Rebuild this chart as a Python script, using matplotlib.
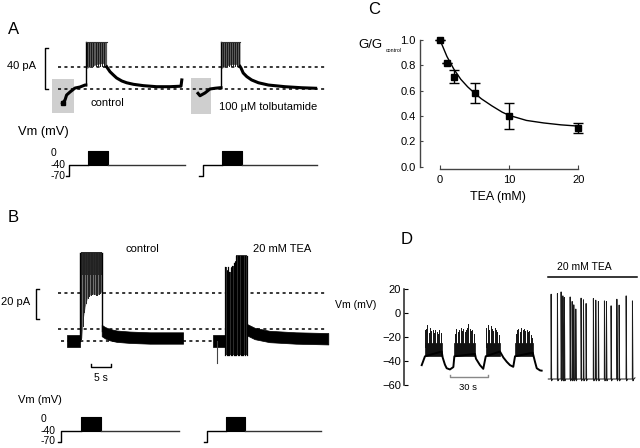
import matplotlib
matplotlib.use('Agg')
import matplotlib.pyplot as plt
import numpy as np
from matplotlib.patches import Rectangle

plt.rcParams['font.family'] = ['Liberation Sans', 'DejaVu Sans']

# ------------------------------------------------------------------ data
# Panel A: whole-cell current (time s from trace start, current pA above baseline)
A_ctrl_pre_t = [0.4, 1.0, 1.4, 2.25, 3.5, 4.75, 6.0, 6.2]
A_ctrl_pre_i = [-13.2, -10.3, -5.5, -2.6, 1.2, 2.2, 4.1, 4.1]
A_ctrl_burst = [6.2, 11.4]
A_ctrl_inner_t = [6.25, 7.5, 9.0, 10.5, 11.4]
A_ctrl_inner_i = [20.0, 22.0, 24.0, 25.0, 22.0]
A_ctrl_decay_t = [11.4, 12.25, 13.1, 13.9, 15.2, 16.4, 18.1, 20.6, 23.9, 27.25, 30.0, 30.2]
A_ctrl_decay_i = [21.7, 16.9, 13.75, 10.9, 8.0, 6.3, 4.8, 3.5, 2.5, 2.5, 3.0, 9.0]
A_ctrl_box = [-2.25, 3.25, -22.8, 9.9]          # t0, t1, i0, i1 (shaded region)

A_tolb_pre_t = [0.0, 0.5, 1.75, 3.0, 4.25, 5.5, 5.75]
A_tolb_pre_i = [-3.9, -6.2, -3.5, 0.3, 1.0, 1.5, 1.5]
A_tolb_burst = [5.75, 10.5]
A_tolb_inner_t = [5.8, 7.0, 8.5, 9.7, 10.5]
A_tolb_inner_i = [20.0, 22.6, 24.0, 24.0, 22.0]
A_tolb_decay_t = [10.5, 10.75, 11.3, 12.2, 13.4, 15.1, 17.6, 21.75, 25.9, 29.4]
A_tolb_decay_i = [22.0, 20.5, 15.7, 12.2, 9.0, 6.3, 4.1, 2.5, 1.5, 1.0]
A_tolb_box = [-1.75, 3.25, -23.75, 10.9]

A_burst_top = 45.8
A_dash_levels = [0.0, 21.7]
A_spike_rel = [0.4, 0.9, 1.4, 1.9, 2.5, 3.0, 3.6, 4.1, 4.6]

# Panel B
B_ctrl_pre_t = [0.0, 3.3]
B_ctrl_pre_i = [0.0, 0.0]
B_ctrl_burst = [3.3, 8.75]
B_ctrl_inner_t = [3.4, 3.75, 4.15, 4.6, 5.15, 5.8, 6.65, 7.5, 8.3, 8.75]
B_ctrl_inner_i = [0.0, 2.0, 15.3, 22.9, 28.7, 30.7, 31.3, 30.7, 31.8, 33.0]
B_ctrl_decay_t = [8.75, 9.6, 10.8, 12.5, 15.8, 20.8, 29.1]
B_ctrl_decay_i = [7.0, 5.5, 4.2, 3.2, 2.5, 2.0, 2.0]
B_ctrl_top = 59.0
B_ctrl_spk_rel = [0.3, 0.7, 1.1, 1.5, 1.9, 2.3, 2.7, 3.1, 3.5, 3.9, 4.3, 4.7, 5.1]

B_tea_pre_t = [0.0, 3.1]
B_tea_pre_i = [0.0, 0.0]
B_tea_notch = [1.0, -14.9]
B_tea_bottom = -9.3
B_tea_spk_t = [3.1, 3.45, 3.8, 4.15, 4.5, 4.85, 5.2, 5.55, 5.9, 6.25, 6.6, 6.95, 7.3, 7.65, 8.0, 8.5]
B_tea_spk_top = [49.5, 47.0, 49.5, 46.0, 49.0, 50.0, 52.0, 53.0, 57.0, 57.0, 57.0, 57.0, 57.0, 57.0, 57.0, 57.0]
B_tea_decay_t = [8.5, 8.6, 10.5, 14.2, 20.8, 28.9]
B_tea_decay_i = [8.0, 7.5, 5.0, 3.0, 2.0, 1.5]
B_noise_half = 3.8
B_dash_levels = [0.0, 7.8, 31.8]

# Voltage protocols: start, step to -40, test on, test off, end (s from trace start)
PROT_LEVELS = [-70, -40, 0]
A_ctrl_prot = [1.25, 2.0, 6.8, 11.8, 31.0]
A_tolb_prot = [0.3, 1.3, 6.1, 10.9, 29.7]
B_ctrl_prot = [-2.1, -1.4, 3.5, 8.5, 28.1]
B_tea_prot = [-2.2, -1.5, 3.25, 8.1, 27.0]
prot_labels = ['0', '-40', '-70']

# Panel C: TEA dose response
C_tea = [0, 1, 2, 5, 10, 20]
C_g = [1.0, 0.82, 0.71, 0.58, 0.40, 0.305]
C_err = [0.0, 0.0, 0.05, 0.08, 0.10, 0.04]
C_fit_x = [0, 1, 2, 3, 4, 5, 6, 7.5, 9, 10, 12.5, 15, 17.5, 20]
C_fit_y = [1.0, 0.87, 0.77, 0.69, 0.63, 0.58, 0.535, 0.48, 0.43, 0.405, 0.365, 0.345, 0.33, 0.32]
C_xticks = [0, 10, 20]
C_yticks = [0.0, 0.2, 0.4, 0.6, 0.8, 1.0]

# Panel D: membrane potential (s, mV)
D_ctrl_wave_t = [0, 1.0, 2.6, 15.9, 16.7, 18.5, 19.9, 22.5, 25.2, 26.0, 42.4, 43.2, 46.4, 49.0,
                 51.0, 62.3, 65.0, 67.7, 70.3, 72.9, 74.3, 88.4, 90.2, 91.6, 94.2, 95.5]
D_ctrl_wave_v = [-43.4, -40.6, -36, -32, -37, -43, -46, -47, -45, -36, -34, -38, -43.4, -46.5,
                 -36, -32, -37, -40.6, -43.4, -44.8, -36, -33, -40.6, -46, -47.8, -48]
D_bursts = [[2.6, 15.9], [26.0, 42.4], [51.0, 62.3], [74.3, 88.4]]
D_band = [-36, -25]
D_spk_t = [
    [3.0, 3.4, 4.5, 5.5, 6.6, 7.7, 8.7, 9.8, 10.9, 11.9, 13.0, 14.0, 15.1],
    [26.5, 27.6, 28.7, 29.8, 30.9, 32.0, 33.1, 34.2, 35.3, 36.4, 37.1, 38.2, 39.3, 40.4, 41.5],
    [51.5, 52.6, 53.7, 54.8, 55.9, 57.0, 58.1, 59.2, 60.3, 61.4],
    [74.8, 75.9, 77.0, 78.1, 79.2, 80.3, 81.4, 82.5, 83.6, 84.7, 85.8, 86.9, 88.0]]
D_spk_v = [
    [-14, -13.4, -9.9, -16.8, -12.6, -14.6, -14.0, -16.8, -14.0, -15.4, -17.6, -14.0, -16.8],
    [-17, -13, -16, -14, -12, -15, -13, -16, -14, -12, -9, -13, -15, -14, -17],
    [-12, -10, -14, -11, -13, -15, -12, -14, -16, -18],
    [-17, -14, -13, -16, -12, -14, -13, -15, -14, -16, -15, -18, -21]]
D_tea_base = -55
D_tea_end = 69.0
D_tea_spk_t = [2.15, 7.17, 10.1, 11.5, 12.7, 17.3, 18.9, 20.2, 21.8, 26.0, 27.9, 30.0,
               35.8, 37.7, 39.8, 44.6, 46.2, 49.9, 54.5, 56.3, 61.9, 66.9]
D_tea_spk_v = [15.9, 16.4, 17.8, 14.5, 13.1, 13.6, 9.8, 7.0, 3.5, 12.6, 11.2, 8.1,
               12.3, 10.9, 9.8, 10.3, 9.8, 6.2, 11.7, 6.8, 14.5, 10.3]
D_yticks = [-60, -40, -20, 0, 20]

# ------------------------------------------------------------------ layout
W, H = 640, 448
fig = plt.figure(figsize=(W / 100, H / 100), dpi=100)


def ax_px(x0, y0, x1, y1, off=True):
    ax = fig.add_axes([x0 / W, 1 - y1 / H, (x1 - x0) / W, (y1 - y0) / H])
    if off:
        ax.set_axis_off()
    return ax


def ftext(x, y, s, size, ha='center', va='center', **kw):
    fig.text(x / W, 1 - y / H, s, fontsize=size, ha=ha, va=va, **kw)


PXS = 4.0  # px per second in A/B


def time_axes(y0, y1, t0px, ipx, i0px):
    ax = ax_px(0, y0, 330, y1)
    ax.set_xlim(-t0px / PXS, (330 - t0px) / PXS)
    ax.set_ylim((i0px - y1) / ipx, (i0px - y0) / ipx)
    return ax


DASH = dict(color='k', lw=1.1, ls=(0, (2.0, 2.2)), zorder=1)


def add(lst, off):
    return [v + off for v in lst]


def draw_step_trace(ax, off, pre_t, pre_i, burst, top, inner_t, inner_i, decay_t, decay_i, lw=2.2):
    ax.plot(add(pre_t, off), pre_i, color='k', lw=lw, zorder=3, solid_joinstyle='round')
    ax.fill_between(add(inner_t, off), inner_i, top, color='#5a5a5a', lw=0, zorder=3)
    for s in A_spike_rel:
        ax.plot([burst[0] + s + off] * 2, [inner_i[0] + 2, top], color='#1a1a1a', lw=0.7, zorder=3)
    ax.plot([burst[0] + off] * 2, [pre_i[-1], top], color='k', lw=1.0, zorder=3)
    ax.plot(add([burst[0], burst[1]], off), [top, top], color='#333', lw=0.8, zorder=3)
    ax.plot(add(decay_t, off), decay_i, color='k', lw=lw, zorder=3, solid_joinstyle='round')


def draw_protocol(ax, off, p, lw=1.0):
    hold, pre, test = PROT_LEVELS
    ax.plot(add([p[0], p[1], p[1], p[2]], off), [hold, hold, pre, pre], color='k', lw=lw)
    ax.fill_between(add([p[2], p[3]], off), pre, test, color='k', lw=0.8, edgecolor='k')
    ax.plot(add([p[3], p[4]], off), [pre, pre], color='#333', lw=lw)


# ---------------- Panel A
A_T0 = 61.0
A_IPX = 1.04
A_I0 = 89.3
axA = time_axes(35, 125, A_T0, A_IPX, A_I0)
A_tolb_off = (198 - A_T0) / PXS
for lev in A_dash_levels:
    axA.plot([-0.75, 66.0], [lev, lev], **DASH)
for box, off in [(A_ctrl_box, 0.0), (A_tolb_box, A_tolb_off)]:
    axA.add_patch(Rectangle((box[0] + off, box[2]), box[1] - box[0], box[3] - box[2],
                            facecolor='#cfcfcf', edgecolor='none', zorder=0))
draw_step_trace(axA, 0.0, A_ctrl_pre_t, A_ctrl_pre_i, A_ctrl_burst, A_burst_top,
                A_ctrl_inner_t, A_ctrl_inner_i, A_ctrl_decay_t, A_ctrl_decay_i)
axA.plot([A_ctrl_pre_t[0]], [A_ctrl_pre_i[0]], 's', color='k', ms=3.5, zorder=4)
draw_step_trace(axA, A_tolb_off, A_tolb_pre_t, A_tolb_pre_i, A_tolb_burst, A_burst_top,
                A_tolb_inner_t, A_tolb_inner_i, A_tolb_decay_t, A_tolb_decay_i)
# 40 pA scale bar
sx = (45 - A_T0) / PXS
axA.plot([sx + 0.7, sx, sx, sx + 0.7], [0, 0, 40, 40], color='k', lw=1.0, clip_on=False)

axAp = ax_px(0, 145, 330, 182)
axAp.set_xlim(-A_T0 / PXS, (330 - A_T0) / PXS)
axAp.set_ylim((150.9 - 182) / 0.36, (150.9 - 145) / 0.36)
draw_protocol(axAp, 0.0, A_ctrl_prot)
draw_protocol(axAp, A_tolb_off, A_tolb_prot)

ftext(14, 29, 'A', 12)
ftext(36, 66, '40 pA', 8, ha='right')
ftext(107.5, 103, 'control', 8)
ftext(268.5, 107, '100 \u00b5M tolbutamide', 8)
ftext(18, 132, 'Vm (mV)', 9.3, ha='left')
for lab, y in zip(prot_labels, [153, 164.5, 176]):
    ftext(51, y, lab, 7.5, ha='left')

# ---------------- Panel B
B_T0 = 66.7
B_IPX = 1.5
B_I0 = 341.0
axB = time_axes(240, 375, B_T0, B_IPX, B_I0)
B_tea_off = (212.7 - B_T0) / PXS
axB.plot([-2.2, 65.1], [B_dash_levels[2]] * 2, **DASH)
axB.plot([-2.2, 65.1], [B_dash_levels[1]] * 2, **DASH)
axB.plot([-1.4, 36.6], [B_dash_levels[0]] * 2, **DASH)

nh = B_noise_half
# control
axB.fill_between(B_ctrl_pre_t, [v - nh for v in B_ctrl_pre_i], [v + nh for v in B_ctrl_pre_i],
                 color='k', lw=0.5, zorder=3)
axB.fill_between(B_ctrl_inner_t, B_ctrl_inner_i, B_ctrl_top, color='#707070', lw=0, zorder=3)
axB.fill_between([B_ctrl_burst[0] + 0.2, B_ctrl_burst[1]], 44, B_ctrl_top, color='#2a2a2a', lw=0, zorder=3)
for s in B_ctrl_spk_rel:
    ts = B_ctrl_burst[0] + s
    lo = float(np.interp(ts, B_ctrl_inner_t, B_ctrl_inner_i))
    axB.plot([ts] * 2, [lo, B_ctrl_top], color='#222', lw=0.7, zorder=3)
axB.plot([B_ctrl_burst[0]] * 2, [0, B_ctrl_top], color='k', lw=1.0, zorder=3)
axB.plot([B_ctrl_burst[1]] * 2, [B_ctrl_decay_i[0], B_ctrl_top], color='k', lw=1.0, zorder=3)
axB.fill_between(B_ctrl_decay_t, [v - nh for v in B_ctrl_decay_i], [v + nh for v in B_ctrl_decay_i],
                 color='k', lw=0.5, zorder=3)
# TEA
axB.fill_between(add(B_tea_pre_t, B_tea_off), [v - nh for v in B_tea_pre_i], [v + nh for v in B_tea_pre_i],
                 color='k', lw=0.5, zorder=3)
axB.plot([B_tea_notch[0] + B_tea_off] * 2, [0, B_tea_notch[1]], color='#444', lw=0.8, zorder=3)
axB.fill_between(add(B_tea_spk_t, B_tea_off), B_tea_bottom, B_tea_spk_top, step='post',
                 color='#3a3a3a', lw=0, zorder=3)
for t, v in zip(B_tea_spk_t, B_tea_spk_top):
    axB.plot([t + B_tea_off] * 2, [B_tea_bottom, v], color='k', lw=0.9, zorder=3)
axB.fill_between(add(B_tea_decay_t, B_tea_off), [v - nh for v in B_tea_decay_i],
                 [v + nh for v in B_tea_decay_i], color='k', lw=0.5, zorder=3)
# scale bars
sx = (36 - B_T0) / PXS
axB.plot([sx + 0.7, sx, sx, sx + 0.7], [15, 15, 35, 35], color='k', lw=1.0, clip_on=False)
axB.plot([6.1, 6.1, 11.1, 11.1], [-15.3, -17.3, -17.3, -15.3], color='k', lw=1.0, clip_on=False)

axBp = ax_px(0, 410, 330, 447)
axBp.set_xlim(-B_T0 / PXS, (330 - B_T0) / PXS)
axBp.set_ylim((416.9 - 447) / 0.36, (416.9 - 410) / 0.36)
draw_protocol(axBp, 0.0, B_ctrl_prot)
draw_protocol(axBp, B_tea_off, B_tea_prot)

ftext(13, 218, 'B', 12)
ftext(30, 302, '20 pA', 8, ha='right')
ftext(142.5, 249, 'control', 8)
ftext(282, 249, '20 mM TEA', 8)
ftext(101, 378, '5 s', 7.5)
ftext(18, 400, 'Vm (mV)', 8, ha='left')
for lab, y in zip(prot_labels, [419.3, 431, 441]):
    ftext(41, y, lab, 7.5, ha='left')

# ---------------- Panel C
C_PX = 6.915
C_YPX = 126.7
axC = ax_px(420, 33.7, 600, 169.2, off=False)
axC.set_xlim(-20 / C_PX, (600 - 440) / C_PX)
axC.set_ylim(-0.02, -0.02 + (169.2 - 33.7) / C_YPX)
axC.plot(C_fit_x, C_fit_y, color='k', lw=1.0, zorder=2)
axC.errorbar(C_tea, C_g, yerr=C_err, fmt='s', color='k', ms=4.8, capsize=3.3,
             elinewidth=1.0, capthick=1.0, zorder=3)
for sp in ['top', 'right']:
    axC.spines[sp].set_visible(False)
axC.spines['left'].set_bounds(0, 1)
axC.spines['bottom'].set_bounds(0, 20)
for sp in ['left', 'bottom']:
    axC.spines[sp].set_color('#444')
    axC.spines[sp].set_linewidth(1.0)
axC.set_xticks(C_xticks)
axC.set_yticks(C_yticks)
axC.set_yticklabels(['%.1f' % v for v in C_yticks])
axC.tick_params(axis='y', direction='in', length=2.5, pad=3, labelsize=8, color='#444')
axC.tick_params(axis='x', direction='in', length=3, pad=4, labelsize=8, color='#444')
ftext(374, 10, 'C', 12)
ftext(498, 197, 'TEA (mM)', 9)
ftext(358, 45, 'G/G', 9.5, ha='left')
ftext(385.5, 50, 'control', 3.8, ha='left')

# ---------------- Panel D
D_PX = 1.256
axD = ax_px(404.3, 289.3, 640, 385, off=False)
axD.set_xlim(0, (640 - 404.3) / D_PX)
axD.set_ylim(-60, 20)
for sp in ['top', 'right', 'bottom']:
    axD.spines[sp].set_visible(False)
axD.spines['left'].set_color('#222')
axD.spines['left'].set_linewidth(1.1)
axD.set_xticks([])
axD.set_yticks(D_yticks)
axD.tick_params(axis='y', direction='in', length=3, pad=2.5, labelsize=8)
D_ctrl_off = (421.7 - 404.3) / D_PX
D_tea_off = (548.3 - 404.3) / D_PX
axD.plot(add(D_ctrl_wave_t, D_ctrl_off), D_ctrl_wave_v, color='k', lw=1.4, clip_on=False)
for (b0, b1), st, sv in zip(D_bursts, D_spk_t, D_spk_v):
    axD.fill_between([b0 + D_ctrl_off, b1 + D_ctrl_off], D_band[0], D_band[1], color='#111', lw=0.5)
    for t, v in zip(st, sv):
        axD.plot([t + D_ctrl_off] * 2, [D_band[1] - 3, v], color='#111', lw=0.7)
# TEA trace
tx = [D_tea_off]
vy = [D_tea_base]
for t, v in zip(D_tea_spk_t, D_tea_spk_v):
    tx += [t + D_tea_off, t + D_tea_off + 0.1, t + D_tea_off + 0.5, t + D_tea_off + 1.2]
    vy += [D_tea_base, v, D_tea_base - 1.5, D_tea_base]
tx.append(D_tea_end + D_tea_off)
vy.append(D_tea_base + 1)
axD.plot(tx, vy, color='#1a1a1a', lw=0.7)
# 20 mM TEA bar and 30 s bar
axD.plot([D_tea_off, (637.3 - 404.3) / D_PX], [30.3, 30.3], color='k', lw=1.1, clip_on=False)
t30 = (450 - 404.3) / D_PX
axD.plot([t30, t30, t30 + 30, t30 + 30], [-51.5, -53.6, -53.6, -51.5], color='#888', lw=1.0, clip_on=False)
ftext(407, 239, 'D', 12)
ftext(584.5, 267, '20 mM TEA', 7.5)
ftext(468, 387, '30 s', 6.8)
ftext(355.5, 304.5, 'Vm (mV)', 7.6)

fig.savefig('out.png', dpi=100)
